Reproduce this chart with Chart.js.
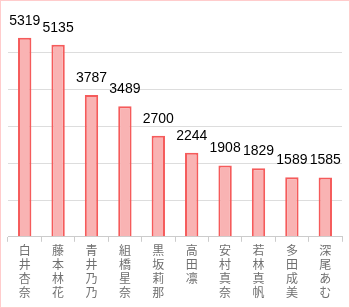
<!DOCTYPE html>
<html>
<head>
<meta charset="utf-8">
<script src="https://cdn.jsdelivr.net/npm/chart.js@4"></script>
<style>
  html, body { margin: 0; padding: 0; background: #fff; }
  #wrap { width: 348px; height: 306px; border: 1px solid #ffcccc; }
</style>
</head>
<body>
<div id="wrap"><canvas id="chart" width="348" height="306"></canvas></div>
<script>
const names = ["白井杏奈", "藤本林花", "青井乃乃", "組橋星奈", "黒坂莉那", "高田凛", "安村真奈", "若林真帆", "多田成美", "深尾あむ"];
const votes = [5319, 5135, 3787, 3489, 2700, 2244, 1908, 1829, 1589, 1585];

const yMax = 5900;

// value labels above each bar
const valueLabels = {
  id: "valueLabels",
  afterDatasetsDraw(chart) {
    const ctx = chart.ctx;
    const meta = chart.getDatasetMeta(0);
    ctx.save();
    ctx.font = "14px 'Liberation Sans', sans-serif";
    ctx.fillStyle = "#000";
    ctx.textAlign = "center";
    ctx.textBaseline = "alphabetic";
    meta.data.forEach((bar, i) => {
      ctx.fillText(String(votes[i]), bar.x, bar.y - 13);
    });
    ctx.restore();
  },
};

new Chart(document.getElementById("chart"), {
  type: "bar",
  data: {
    labels: names.map((n) => n.split("")),
    datasets: [
      {
        data: votes,
        backgroundColor: "#f9b3b3",
        borderColor: "#f55b5b",
        borderWidth: 2,
        barPercentage: 0.4,
        categoryPercentage: 1,
      },
    ],
  },
  options: {
    responsive: false,
    animation: false,
    layout: { padding: { left: 7, right: 7, top: 15, bottom: 6 } },
    plugins: {
      legend: { display: false },
      tooltip: { enabled: false },
    },
    scales: {
      x: {
        grid: { display: true, drawOnChartArea: false, color: "#ccc", tickLength: 5, offset: true },
        border: { display: true, color: "#ccc" },
        ticks: {
          color: "#707070",
          maxRotation: 0,
          autoSkip: false,
          padding: 2,
          font: { family: "'Noto Sans CJK JP', sans-serif", size: 12, lineHeight: 1.15 },
        },
      },
      y: {
        min: 0,
        max: yMax,
        border: { display: false },
        grid: {
          drawTicks: false,
          color: (c) => (c.tick && (c.tick.value === 0 || c.tick.value === yMax) ? "transparent" : "#dddddd"),
        },
        ticks: { display: false, stepSize: 1000 },
      },
    },
  },
  plugins: [valueLabels],
});
</script>
</body>
</html>
